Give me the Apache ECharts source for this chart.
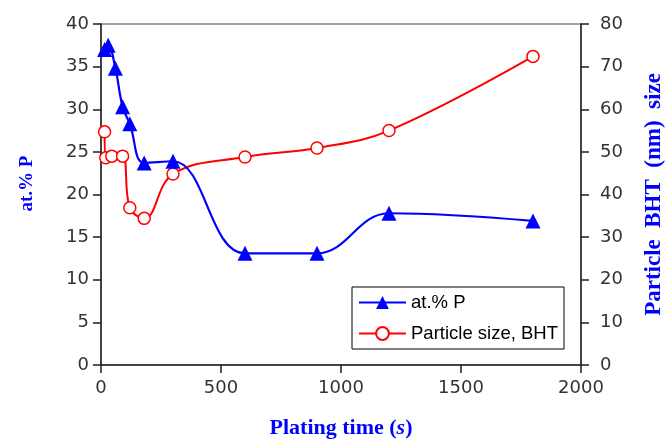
<!DOCTYPE html>
<html>
<head>
<meta charset="utf-8">
<script src="https://cdn.jsdelivr.net/npm/echarts@6/dist/echarts.min.js"></script>
<style>html,body{margin:0;padding:0;background:#fff}#c{width:666px;height:439px}</style>
</head>
<body>
<div id="c"></div>
<script>
// Data
var timeP = [15, 30, 60, 90, 120, 180, 300, 600, 900, 1200, 1800];
var atP   = [37.0, 37.5, 34.8, 30.3, 28.3, 23.7, 23.9, 13.1, 13.1, 17.8, 16.9];
var timeBHT = [15, 20, 45, 90, 120, 180, 300, 600, 900, 1200, 1800];
var sizeBHT = [54.7, 48.6, 49.0, 49.0, 36.9, 34.4, 44.8, 48.8, 50.9, 55.0, 72.4];
var xTicks = {min: 0, max: 2000, interval: 500};
var yLeftTicks = {min: 0, max: 40, interval: 5};
var yRightTicks = {min: 0, max: 80, interval: 10};

function pairs(xs, ys) { return xs.map(function (x, i) { return [x, ys[i]]; }); }
function plain(v) { return String(v); }

var chart = echarts.init(document.getElementById('c'));
var axisCol = '#222';
var labelStyle = {color: '#333', fontFamily: 'DejaVu Sans', fontSize: 18, formatter: plain};
var nameStyle = {color: '#0000ff', fontFamily: 'Liberation Serif', fontWeight: 'bold', fontSize: 20};

chart.setOption({
  animation: false,
  backgroundColor: '#fff',
  grid: {left: 101, right: 85, top: 24, bottom: 74, containLabel: false, outerBoundsMode: 'none',
         show: true, borderColor: '#888', borderWidth: 1.5},
  legend: {
    orient: 'vertical', left: 352, top: 287,
    backgroundColor: '#fff', borderColor: '#000', borderWidth: 1,
    padding: [6, 6, 6, 6], itemGap: 12, itemWidth: 47, itemHeight: 16,
    textStyle: {color: '#000', fontFamily: 'Liberation Sans', fontSize: 18.5},
    data: ['at.% P', 'Particle size, BHT']
  },
  xAxis: {
    type: 'value', min: xTicks.min, max: xTicks.max, interval: xTicks.interval,
    name: '{b|Plating time (}{i|s}{b|)}', nameLocation: 'middle', nameGap: 52,
    nameTextStyle: {rich: {
      b: {color: '#0000ff', fontFamily: 'Liberation Serif', fontWeight: 'bold', fontSize: 22},
      i: {color: '#0000ff', fontFamily: 'Liberation Serif', fontWeight: 'bold', fontStyle: 'italic', fontSize: 22}
    }},
    axisLine: {lineStyle: {color: axisCol, width: 1.5}},
    axisTick: {inside: false, length: 8, lineStyle: {color: axisCol, width: 1.5}},
    axisLabel: Object.assign({margin: 14}, labelStyle),
    splitLine: {show: false}
  },
  yAxis: [{
    type: 'value', position: 'left', min: yLeftTicks.min, max: yLeftTicks.max, interval: yLeftTicks.interval,
    name: 'at.% P', nameLocation: 'middle', nameGap: 64, nameRotate: 90,
    nameTextStyle: Object.assign({}, nameStyle, {fontSize: 19, padding: [0, 0, 0, 22]}),
    axisLine: {show: true, lineStyle: {color: axisCol, width: 1.5}},
    axisTick: {show: true, length: 8, lineStyle: {color: axisCol, width: 1.5}},
    axisLabel: Object.assign({margin: 12}, labelStyle),
    splitLine: {show: false}
  }, {
    type: 'value', position: 'right', min: yRightTicks.min, max: yRightTicks.max, interval: yRightTicks.interval,
    name: 'Particle  BHT  (nm)  size', nameLocation: 'middle', nameGap: 62, nameRotate: 90,
    nameTextStyle: Object.assign({}, nameStyle, {fontSize: 23}),
    axisLine: {show: true, lineStyle: {color: axisCol, width: 1.5}},
    axisTick: {show: true, length: 8, lineStyle: {color: axisCol, width: 1.5}},
    axisLabel: Object.assign({margin: 19}, labelStyle),
    splitLine: {show: false}
  }],
  series: [{
    name: 'at.% P', type: 'line', yAxisIndex: 0, smooth: 0.4,
    data: pairs(timeP, atP),
    symbol: 'triangle', symbolSize: 15,
    lineStyle: {color: '#0000ff', width: 2.2},
    itemStyle: {color: '#0000ff'},
    z: 3
  }, {
    name: 'Particle size, BHT', type: 'line', yAxisIndex: 1, smooth: 0.4,
    data: pairs(timeBHT, sizeBHT),
    symbol: 'circle', symbolSize: 12,
    lineStyle: {color: '#ff0000', width: 2},
    itemStyle: {color: '#fff', borderColor: '#ff0000', borderWidth: 1.5},
    z: 2
  }]
});
</script>
</body>
</html>
